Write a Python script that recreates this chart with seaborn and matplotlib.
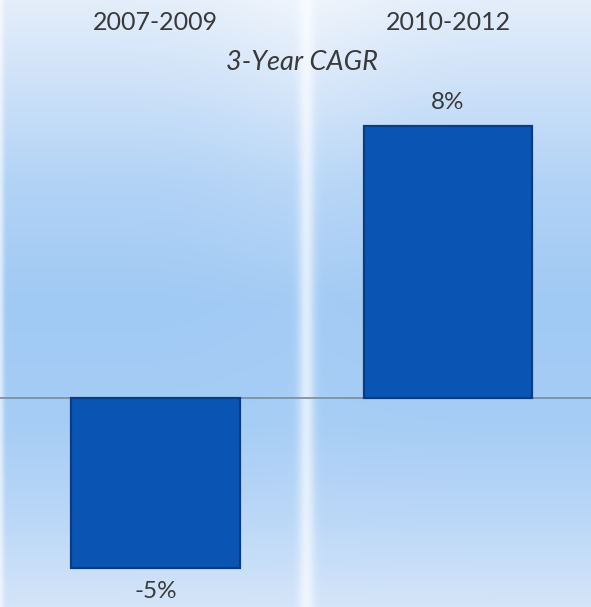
import numpy as np
import pandas as pd
import matplotlib
matplotlib.use("Agg")
import matplotlib.pyplot as plt
from matplotlib.transforms import blended_transform_factory
import seaborn as sns

# Data
periods = ["2007-2009", "2010-2012"]
cagr = [-5, 8]
value_labels = ["-5%", "8%"]
subtitle = "3-Year CAGR"

df = pd.DataFrame({"period": periods, "cagr": cagr})

sns.set_theme(style="white")
plt.rcParams["font.family"] = ["Lato", "DejaVu Sans"]

W, H = 591, 607
fig = plt.figure(figsize=(W / 100, H / 100), dpi=100)

# Soft blue backdrop with a vertical light streak
bg = fig.add_axes([0, 0, 1, 1], zorder=0)
t = np.linspace(0, 1, H)
stops_t = [0.0, 0.10, 0.30, 0.50, 0.70, 0.85, 1.0]
stops_c = np.array([
    [228, 238, 250],
    [212, 229, 249],
    [178, 211, 246],
    [160, 201, 244],
    [166, 205, 245],
    [186, 215, 247],
    [212, 229, 249],
]) / 255.0
col = np.stack([np.interp(t, stops_t, stops_c[:, k]) for k in range(3)], axis=-1)
img = np.repeat(col[:, None, :], W, axis=1)
xs = np.arange(W)[None, :, None]
ys = np.arange(H)[:, None, None]
glow = 0.35 * np.exp(-((xs - 306) / 90.0) ** 2) * np.exp(-ys / 140.0)
img = img + (1 - img) * glow
stripe = 0.65 * np.exp(-((xs - 306) / 8.0) ** 2)
img = img + (1 - img) * stripe
edge = 0.6 * np.exp(-(xs / 3.5) ** 2)
img = img + (1 - img) * edge
bg.imshow(np.clip(img, 0, 1), aspect="auto", extent=[0, 1, 0, 1], interpolation="bilinear")
bg.set_axis_off()

# Bars
ax = fig.add_axes([0, 0, 1, 1], zorder=1)
ax.patch.set_alpha(0)
sns.barplot(data=df, x="period", y="cagr", ax=ax, width=0.575,
            color="#0a55b3", saturation=1, edgecolor="#0a3c84", linewidth=1.6)
ax.set_xlim(-0.532, 1.489)
ax.set_ylim(-6.147, 11.706)
ax.axhline(0, color="#7d8b9c", lw=1.2, zorder=0.5)
ax.set_axis_off()

text_color = "#3a3a3a"
xtop = blended_transform_factory(ax.transData, ax.transAxes)
for i, p in enumerate(periods):
    ax.text(i, 1 - 23 / H, p, transform=xtop, ha="center", va="center",
            fontsize=18, color=text_color)

fig.text(302 / W, 1 - 62 / H, subtitle, ha="center", va="center",
         fontsize=19.5, style="italic", color=text_color)

for i, (v, lab) in enumerate(zip(cagr, value_labels)):
    off = 17 if v > 0 else -17
    ax.annotate(lab, xy=(i, v), xytext=(0, off), textcoords="offset points",
                ha="center", va="center", fontsize=17.5, color=text_color)

fig.savefig("out.png", dpi=100)
